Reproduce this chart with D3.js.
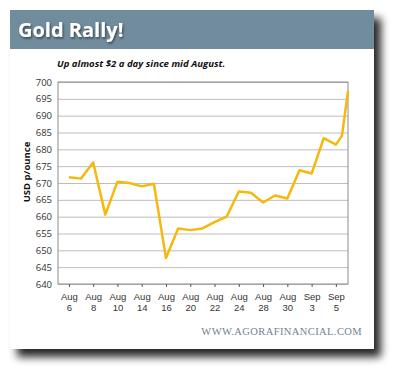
<!DOCTYPE html>
<html>
<head>
<meta charset="utf-8">
<script src="https://cdn.jsdelivr.net/npm/d3@7"></script>
<style>
  html, body { margin: 0; padding: 0; background: #fff; }
  svg { display: block; font-family: "Open Sans", sans-serif; }
</style>
</head>
<body>
<div id="chart"></div>
<script>
// Gold price, trading-day index (last two points are Sep 5 intraday and Sep 6)
const dayIndex = [0, 1, 2, 3, 4, 5, 6, 7, 8, 9, 10, 11, 12, 13, 14, 15, 16, 17, 18, 19, 20, 21, 22, 22.5, 23];
const goldPrice = [671.7, 671.3, 676.1, 660.6, 670.4, 670.0, 669.0, 669.8, 647.7, 656.5, 656.0, 656.5,
                   658.4, 660.0, 667.5, 667.1, 664.2, 666.3, 665.4, 673.8, 672.8, 683.3, 681.4, 684.0, 697.3];
const tickIndex = [0, 2, 4, 6, 8, 10, 12, 14, 16, 18, 20, 22];
const tickMonth = ['Aug', 'Aug', 'Aug', 'Aug', 'Aug', 'Aug', 'Aug', 'Aug', 'Aug', 'Aug', 'Sep', 'Sep'];
const tickDay = ['6', '8', '10', '14', '16', '20', '22', '24', '28', '30', '3', '5'];
const yTicks = [640, 645, 650, 655, 660, 665, 670, 675, 680, 685, 690, 695, 700];

const width = 400, height = 373;
const plot = { left: 58, top: 82, right: 348, bottom: 284 };

const svg = d3.select('#chart').append('svg')
    .attr('width', width)
    .attr('height', height);

// Card shadow
const defs = svg.append('defs');
const shadow = defs.append('filter')
    .attr('id', 'card-shadow')
    .attr('x', '-10%').attr('y', '-10%')
    .attr('width', '130%').attr('height', '130%');
shadow.append('feGaussianBlur').attr('in', 'SourceAlpha').attr('stdDeviation', 4);
shadow.append('feOffset').attr('dx', 7).attr('dy', 8).attr('result', 'off');
shadow.append('feComponentTransfer').append('feFuncA').attr('type', 'linear').attr('slope', 0.85);
const merge = shadow.append('feMerge');
merge.append('feMergeNode');
merge.append('feMergeNode').attr('in', 'SourceGraphic');

const textShadow = defs.append('filter').attr('id', 'text-shadow');
textShadow.append('feDropShadow')
    .attr('dx', 1).attr('dy', 1.5)
    .attr('stdDeviation', 1)
    .attr('flood-color', '#000')
    .attr('flood-opacity', 0.55);

svg.append('rect')
    .attr('x', 10).attr('y', 10)
    .attr('width', 364).attr('height', 339)
    .attr('fill', '#fff')
    .attr('filter', 'url(#card-shadow)');

// Header band
svg.append('rect')
    .attr('x', 10).attr('y', 10)
    .attr('width', 364).attr('height', 39)
    .attr('fill', '#718c9c');

svg.append('text')
    .attr('x', 18).attr('y', 37)
    .attr('fill', '#fff')
    .attr('font-size', 20)
    .attr('font-weight', 'bold')
    .attr('filter', 'url(#text-shadow)')
    .text('Gold Rally!');

svg.append('text')
    .attr('x', 57).attr('y', 67)
    .attr('fill', '#111')
    .attr('font-size', 9.6)
    .attr('font-weight', 'bold')
    .attr('font-style', 'italic')
    .text('Up almost $2 a day since mid August.');

// Scales
const x = d3.scaleLinear()
    .domain([-0.9, 23])
    .range([plot.left, plot.right]);

const y = d3.scaleLinear()
    .domain([640, 700])
    .range([plot.bottom, plot.top]);

const g = svg.append('g');

// Grid lines
g.append('g')
    .attr('transform', `translate(${plot.left},0)`)
    .call(d3.axisLeft(y)
        .tickValues(yTicks)
        .tickSize(-(plot.right - plot.left))
        .tickFormat(''))
    .call(s => s.select('.domain').remove())
    .call(s => s.selectAll('line').attr('stroke', '#bdbdbd').attr('stroke-width', 1));

// Plot frame
g.append('rect')
    .attr('x', plot.left).attr('y', plot.top)
    .attr('width', plot.right - plot.left)
    .attr('height', plot.bottom - plot.top)
    .attr('fill', 'none')
    .attr('stroke', '#8c8c8c')
    .attr('stroke-width', 1);

// Y axis labels
g.append('g')
    .attr('transform', `translate(${plot.left},0)`)
    .call(d3.axisLeft(y).tickValues(yTicks).tickSize(0).tickPadding(6))
    .call(s => s.select('.domain').remove())
    .call(s => s.selectAll('text')
        .attr('fill', '#333')
        .attr('font-size', 9.5)
        .attr('font-family', '"Open Sans", sans-serif'));

// X axis ticks and two-line labels (month and day as separate texts)
const xAxis = g.append('g')
    .attr('transform', `translate(0,${plot.bottom})`)
    .call(d3.axisBottom(x).tickValues(tickIndex).tickSize(3).tickFormat(''))
    .call(s => s.select('.domain').remove())
    .call(s => s.selectAll('line').attr('stroke', '#555'));

xAxis.selectAll('.tick').each(function(d, i) {
    const tick = d3.select(this);
    tick.append('text')
        .attr('y', 16)
        .attr('fill', '#333')
        .attr('font-size', 9.5)
        .attr('text-anchor', 'middle')
        .text(tickMonth[i]);
    tick.append('text')
        .attr('y', 27)
        .attr('fill', '#333')
        .attr('font-size', 9.5)
        .attr('text-anchor', 'middle')
        .text(tickDay[i]);
});

// Y axis title
svg.append('text')
    .attr('transform', `translate(30,172) rotate(-90)`)
    .attr('text-anchor', 'middle')
    .attr('fill', '#111')
    .attr('font-size', 9.5)
    .attr('font-weight', 'bold')
    .text('USD p/ounce');

// Price line
const line = d3.line()
    .x((d, i) => x(dayIndex[i]))
    .y(d => y(d));

g.append('path')
    .datum(goldPrice)
    .attr('fill', 'none')
    .attr('stroke', '#f6b80c')
    .attr('stroke-width', 2.5)
    .attr('stroke-linejoin', 'round')
    .attr('d', line);

// Footer
svg.append('text')
    .attr('x', 362).attr('y', 335)
    .attr('text-anchor', 'end')
    .attr('fill', '#6f8391')
    .attr('font-size', 10.5)
    .attr('font-family', '"Liberation Serif", serif')
    .attr('letter-spacing', 0.4)
    .text('WWW.AGORAFINANCIAL.COM');
</script>
</body>
</html>
